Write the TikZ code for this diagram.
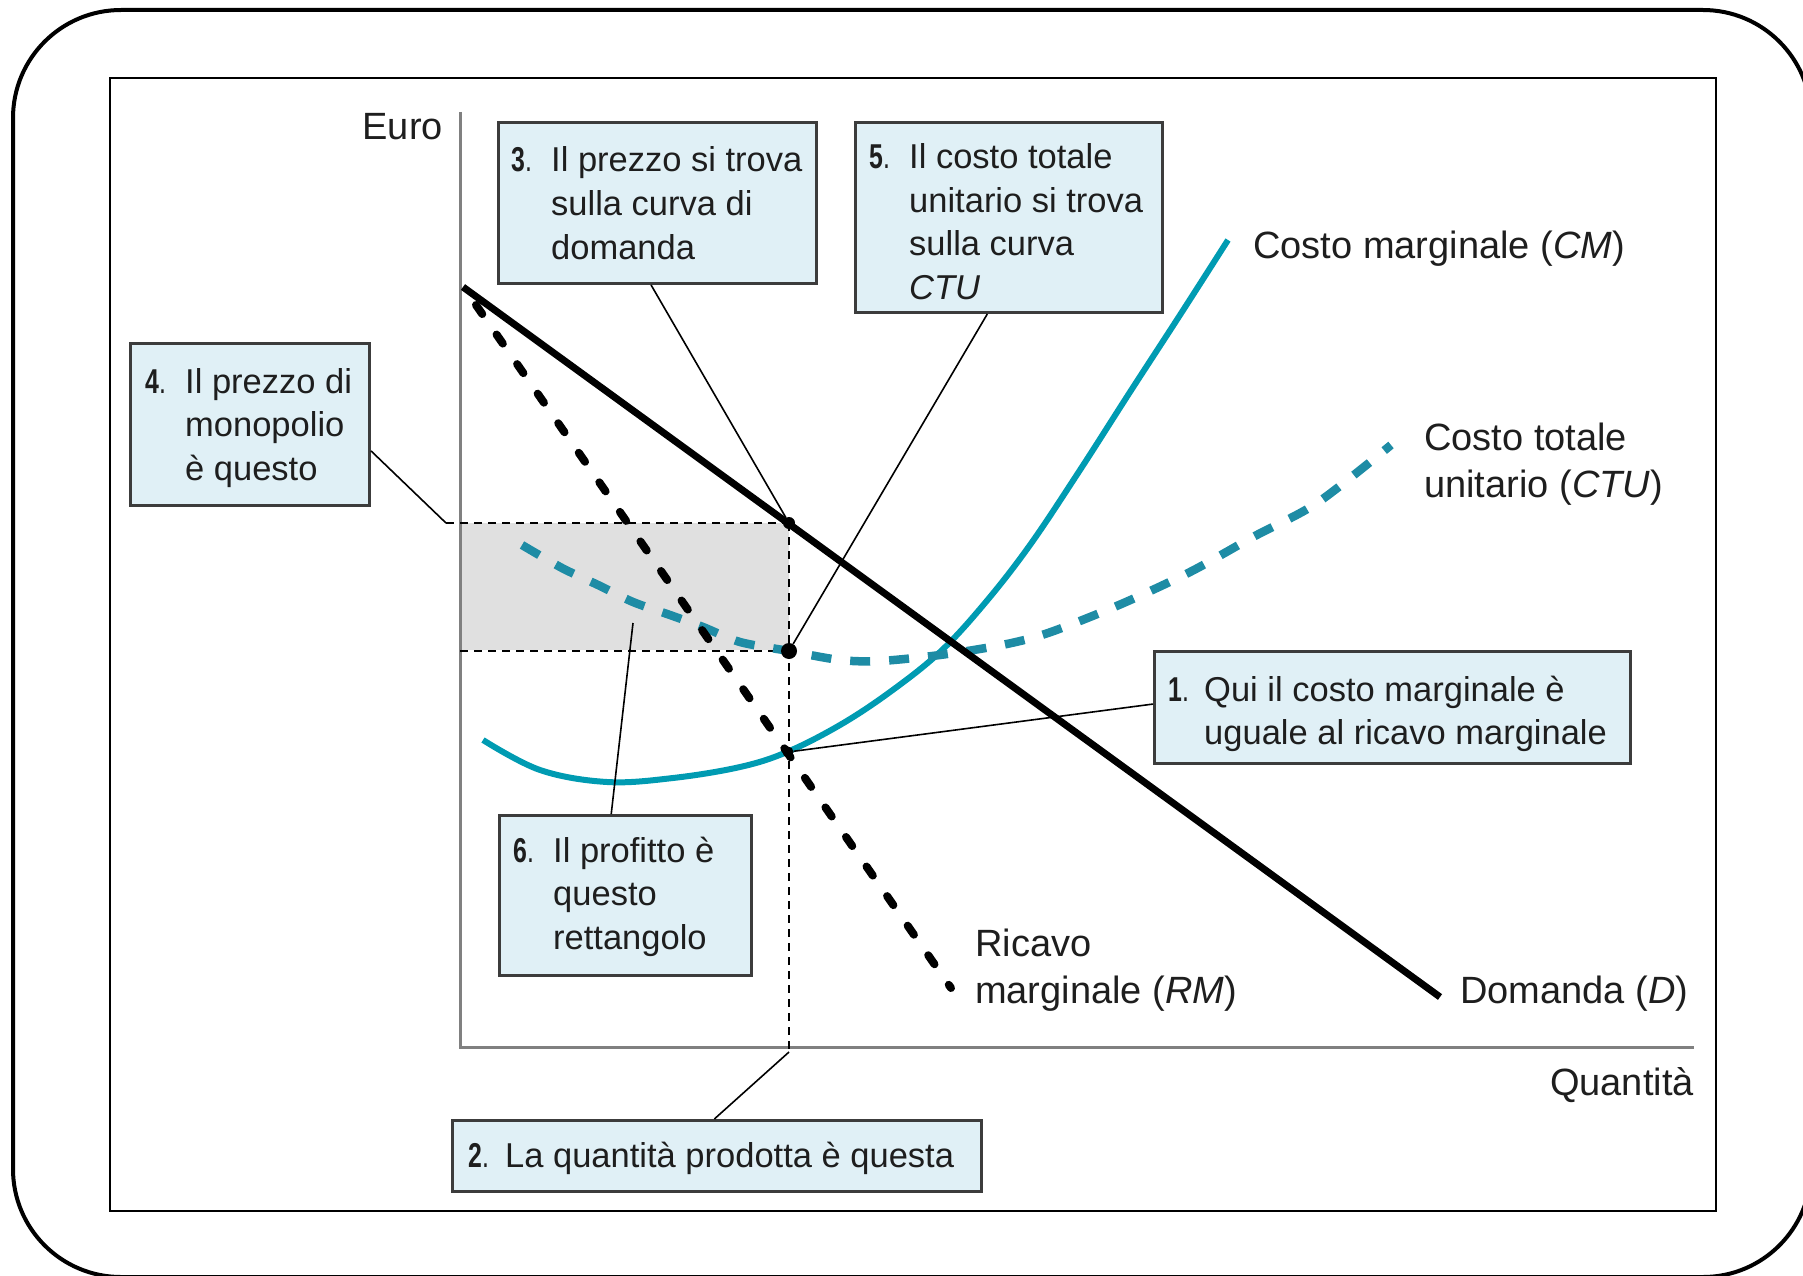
\documentclass[tikz,border=0pt]{standalone}
\usepackage{fontspec}
\setmainfont{Liberation Sans}
\newfontfamily\numfont[FakeStretch=0.72]{Liberation Sans}
\newcommand\boxnum[2][40pt]{\makebox[#1][l]{{\numfont\textbf{#2}.}}}
\usetikzlibrary{calc}
\definecolor{tealc}{RGB}{0,155,178}
\definecolor{ctuc}{RGB}{30,140,165}
\definecolor{boxfill}{RGB}{224,240,246}
\definecolor{boxdraw}{RGB}{60,60,60}
\definecolor{axisc}{RGB}{128,128,128}
\definecolor{shadec}{RGB}{224,224,224}
\definecolor{textc}{RGB}{30,30,30}
\begin{document}
\begin{tikzpicture}[x=1pt,y=-1pt,
  box/.style={draw=boxdraw, fill=boxfill, line width=3pt, anchor=north west, inner sep=0pt},
  txt/.style={inner sep=0pt, text=textc, font=\fontsize{34.5}{43.5}\selectfont},
  lbl/.style={inner sep=0pt, text=textc, font=\fontsize{38}{47}\selectfont, align=left},
  lead/.style={draw=black, line width=1.6pt},
  guide/.style={draw=black, line width=2pt, dash pattern=on 8pt off 6pt},
  axis/.style={draw=axisc, line width=3pt},
  dem/.style={draw=black, line width=7pt},
  mr/.style={draw=black, line width=8pt, line cap=round, dash pattern=on 11pt off 25pt},
  mc/.style={draw=tealc, line width=6pt},
  ctu/.style={draw=ctuc, line width=8.5pt, dash pattern=on 20pt off 19pt},
  dot/.style={circle, fill=black, inner sep=0pt}]
\useasboundingbox (0,0) rectangle (1803,1276);
% frames
\draw[line width=4pt, rounded corners=108pt] (13,10) rectangle (1811,1277);
\draw[line width=2.5pt] (110,78) rectangle (1716,1211);
% shaded profit rectangle
\fill[shadec] (460,523) rectangle (789,650);
% points
\coordinate (P) at (789,523);
\coordinate (A) at (789,651);
\coordinate (E) at (788,752);
\coordinate (PL) at (446,523);
\coordinate (AL) at (460,651);
\coordinate (Q) at (789,1052);
\coordinate (R6) at (633,623);
% axes
\draw[axis] (460,112) -- (460,1047) -- (1694,1047);
% guides
\draw[guide] (PL) -- (P);
\draw[guide] (AL) -- (A);
\draw[guide] (P) -- (Q);
% curves
\draw[mc] plot[smooth, tension=0.6] coordinates {(483,740) (540,770) (607,782) (673,778) (740,767) (787,752) (840,725) (890,692) (940,652) (985,603) (1030,545) (1080,470) (1130,392) (1180,315) (1228,240)};
\draw[ctu] plot[smooth] coordinates {(522,545) (562,568) (598,585) (633,602) (670,615) (703,627) (740,642) (789,651) (840,660) (880,661) (940,655) (1002,645) (1048,633) (1119,605) (1190,572) (1253,537) (1317,503) (1391,445)};
\draw[dem] (463,287) -- (1440,997);
\draw[mr] (476,305) -- (951,988);
% dots
\node[dot, minimum size=16pt] (dA) at (A) {};
\node[dot, minimum size=12pt] (dP) at (P) {};
\node[dot, minimum size=11pt] (dE) at (E) {};
% boxes
\node[box, minimum width=318pt, minimum height=161pt] (b3) at (497,121) {};
\node[box, minimum width=307pt, minimum height=190pt] (b5) at (854,121) {};
\node[box, minimum width=239pt, minimum height=162pt] (b4) at (129,342) {};
\node[box, minimum width=252pt, minimum height=160pt] (b6) at (498,814) {};
\node[box, minimum width=476pt, minimum height=112pt] (b1) at (1153,650) {};
\node[box, minimum width=529pt, minimum height=71pt] (b2) at (451,1119) {};
% box texts
\node[txt, anchor=base west] (t3) at (511,172) {\begin{tabular}[t]{@{}l@{}l@{}}\boxnum{3} & Il prezzo si trova\\ & sulla curva di\\ & domanda\end{tabular}};
\node[txt, anchor=base west] (t5) at (869,169) {\begin{tabular}[t]{@{}l@{}l@{}}\boxnum{5} & Il costo totale\\ & unitario si trova\\ & sulla curva\\ & \textit{CTU}\end{tabular}};
\node[txt, anchor=base west] (t4) at (145,393) {\begin{tabular}[t]{@{}l@{}l@{}}\boxnum{4} & Il prezzo di\\ & monopolio\\ & è questo\end{tabular}};
\node[txt, anchor=base west] (t6) at (513,862) {\begin{tabular}[t]{@{}l@{}l@{}}\boxnum{6} & Il profitto è\\ & questo\\ & rettangolo\end{tabular}};
\node[txt, anchor=base west] (t1) at (1168,701) {\begin{tabular}[t]{@{}l@{}l@{}}\boxnum[36pt]{1} & Qui il costo marginale è\\ & uguale al ricavo marginale\end{tabular}};
\node[txt, anchor=base west] (t2) at (468,1167) {\boxnum[37pt]{2}La quantità prodotta è questa};
% leaders
\draw[lead] ($(b3.south west)!0.48!(b3.south east)$) -- (dP);
\draw[lead] ($(b5.south west)!0.43!(b5.south east)$) -- (dA);
\draw[lead] ($(b4.north east)!0.66!(b4.south east)$) -- (PL);
\draw[lead] ($(b6.north west)!0.444!(b6.north east)$) -- (R6);
\draw[lead] ($(b1.north west)!0.47!(b1.south west)$) -- (dE);
\draw[lead] ($(b2.north west)!0.495!(b2.north east)$) -- (Q);
% labels
\node[lbl, anchor=base east] (euro) at (443,140) {Euro};
\node[lbl, anchor=base east] (quant) at (1694,1095) {Quantità};
\node[lbl, anchor=base west] (lmc) at (1253,258) {Costo marginale (\textit{CM})};
\node[lbl, anchor=base west] (lctu) at (1424,497) {Costo totale\\unitario (\textit{CTU})};
\node[lbl, anchor=base west] (lrm) at (975,1003) {Ricavo\\marginale (\textit{RM})};
\node[lbl, anchor=base west] (ld) at (1460,1003) {Domanda (\textit{D})};
\end{tikzpicture}
\end{document}
